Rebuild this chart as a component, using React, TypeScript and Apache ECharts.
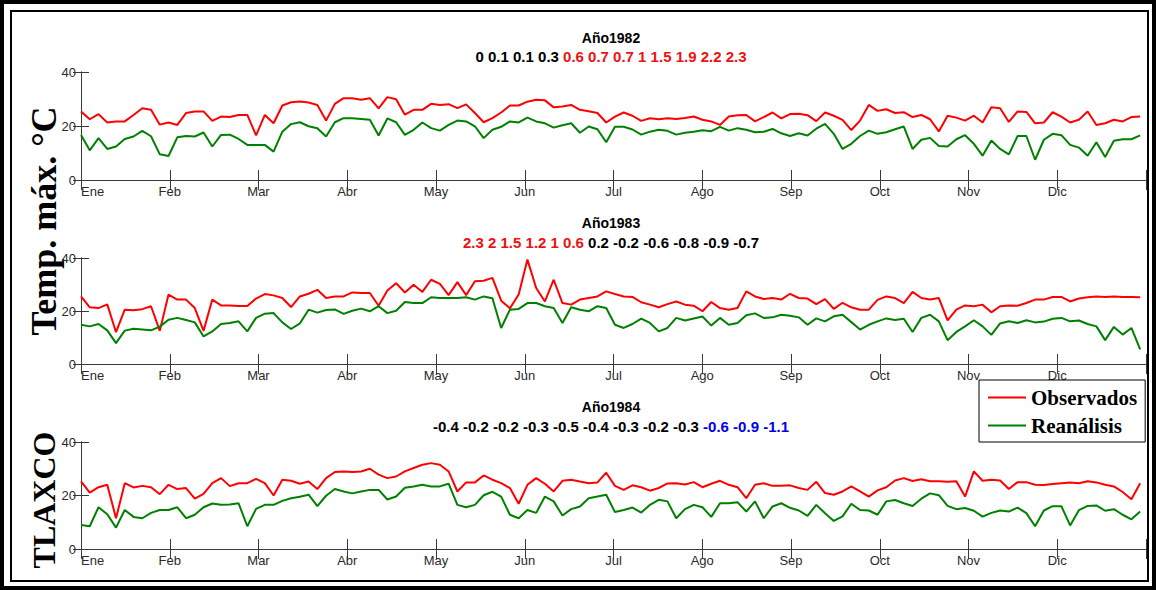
import React, { useEffect, useRef } from "react";
import * as echarts from "echarts";

// Month tick labels
const MONTHS = ["Ene", "Feb", "Mar", "Abr", "May", "Jun", "Jul", "Ago", "Sep", "Oct", "Nov", "Dic"];
// Samples are every STEP days, starting on day 0
const STEP = 3;

// 1982 daily maximum temperature (°C), observed and reanalysis
const obs1982 = [
  25.4, 22.5, 24.4, 21.3, 21.7, 21.7, 24.1, 26.6, 26.0, 20.5,
  21.3, 20.4, 24.8, 25.4, 25.4, 21.9, 23.5, 23.3, 24.1, 24.1,
  16.5, 24.1, 21.0, 27.6, 28.8, 29.1, 28.7, 27.8, 22.0, 28.2,
  30.3, 30.3, 29.7, 30.3, 26.5, 30.7, 29.9, 24.2, 26.0, 26.0,
  28.2, 27.8, 28.1, 26.6, 28.0, 24.8, 21.4, 22.9, 25.0, 27.6,
  27.6, 29.0, 29.7, 29.5, 26.9, 27.2, 27.8, 26.0, 25.5, 24.8,
  21.3, 23.5, 25.0, 23.8, 21.9, 22.9, 22.5, 22.9, 22.6, 23.0,
  23.5, 22.3, 21.7, 20.4, 23.5, 24.0, 24.1, 21.7, 23.3, 25.0,
  22.8, 24.4, 24.5, 24.0, 21.8, 25.0, 23.8, 22.3, 18.5, 22.0,
  27.8, 25.6, 26.2, 24.8, 25.1, 23.3, 24.1, 22.5, 18.0, 23.8,
  23.1, 22.0, 23.8, 21.3, 26.9, 26.6, 21.5, 25.4, 25.2, 21.0,
  21.3, 25.1, 23.5, 21.3, 22.3, 25.4, 20.4, 21.0, 22.3, 21.7,
  23.3, 23.5,
];
const rea1982 = [
  16.7, 11.0, 15.5, 11.5, 12.4, 15.2, 16.1, 18.2, 16.2, 9.5,
  8.9, 15.8, 16.3, 16.1, 17.6, 12.4, 16.7, 16.8, 15.2, 13.0,
  13.0, 13.0, 10.5, 17.9, 20.7, 21.4, 19.9, 19.2, 16.1, 21.4,
  22.9, 22.9, 22.6, 22.3, 16.5, 22.8, 21.4, 16.7, 18.6, 21.3,
  19.2, 18.3, 20.4, 22.0, 21.7, 19.9, 15.5, 18.6, 19.7, 21.7,
  21.3, 23.1, 21.7, 21.0, 19.4, 20.3, 21.0, 17.5, 19.8, 18.8,
  14.0, 19.7, 19.7, 18.7, 16.8, 17.9, 18.6, 18.2, 16.8, 17.5,
  17.9, 18.4, 18.1, 19.7, 18.3, 19.2, 18.6, 17.7, 17.9, 18.9,
  17.3, 16.3, 17.3, 16.5, 19.0, 20.8, 17.1, 11.5, 13.4, 16.3,
  18.3, 17.1, 17.7, 18.8, 19.8, 11.5, 14.9, 15.6, 12.6, 12.4,
  15.1, 16.6, 13.4, 9.0, 14.6, 11.5, 9.5, 16.3, 16.3, 7.5,
  14.9, 17.1, 16.6, 13.0, 12.0, 9.0, 14.0, 8.5, 14.5, 15.1,
  15.1, 16.5,
];

// 1983
const obs1983 = [
  25.5, 21.4, 21.1, 22.5, 12.0, 20.5, 20.3, 20.7, 21.8, 12.5,
  26.2, 24.3, 24.3, 21.1, 12.5, 24.3, 22.1, 22.1, 21.9, 21.9,
  24.7, 26.4, 25.9, 24.9, 21.5, 25.5, 26.5, 28.0, 24.9, 25.5,
  25.5, 27.0, 26.8, 26.8, 22.0, 27.7, 30.5, 27.0, 29.9, 27.2,
  31.8, 30.2, 26.0, 30.9, 26.0, 31.2, 31.4, 32.5, 23.9, 21.0,
  26.2, 39.4, 28.7, 23.6, 31.8, 23.0, 22.4, 24.3, 24.9, 25.5,
  27.4, 26.4, 25.5, 25.3, 23.3, 22.4, 21.4, 22.6, 23.6, 22.4,
  22.0, 19.9, 23.4, 21.1, 20.5, 21.1, 27.4, 25.5, 24.5, 24.9,
  24.3, 26.5, 24.9, 24.7, 22.6, 24.5, 20.8, 23.1, 21.4, 20.5,
  20.5, 24.2, 25.5, 24.9, 23.0, 27.2, 24.9, 24.3, 24.9, 16.5,
  20.5, 22.1, 21.8, 22.4, 19.5, 21.8, 22.1, 22.0, 23.0, 24.3,
  24.3, 25.3, 25.3, 23.6, 24.7, 25.2, 25.5, 25.3, 25.5, 25.3,
  25.3, 25.2,
];
const rea1983 = [
  14.8, 14.2, 15.1, 12.7, 7.9, 12.6, 13.3, 13.0, 12.7, 14.1,
  16.7, 17.4, 16.6, 15.7, 10.4, 12.3, 15.1, 15.5, 16.1, 12.3,
  17.4, 19.0, 19.2, 15.7, 13.2, 15.3, 20.5, 19.4, 20.4, 20.6,
  18.9, 20.1, 20.9, 19.9, 21.8, 19.2, 20.1, 23.4, 23.0, 23.0,
  25.2, 24.9, 24.9, 24.9, 25.2, 24.3, 25.5, 24.8, 13.6, 20.5,
  20.8, 23.0, 23.0, 21.8, 21.1, 15.5, 21.4, 20.5, 19.9, 21.8,
  21.1, 14.8, 13.6, 15.1, 17.1, 15.5, 12.3, 13.6, 17.4, 16.4,
  17.2, 17.9, 14.5, 17.4, 14.8, 15.5, 18.4, 19.1, 17.4, 17.6,
  18.6, 18.2, 17.6, 14.8, 17.2, 16.1, 18.0, 18.6, 15.8, 13.0,
  14.8, 16.1, 17.2, 16.6, 17.1, 12.1, 17.4, 18.6, 16.1, 9.0,
  12.1, 14.2, 16.5, 14.2, 11.0, 15.3, 16.1, 15.5, 16.5, 15.7,
  16.0, 17.1, 17.4, 16.1, 16.4, 15.1, 14.2, 9.0, 14.0, 11.1,
  13.6, 5.5,
];

// 1984
const obs1984 = [
  25.3, 21.1, 23.1, 24.0, 11.5, 24.6, 23.0, 23.6, 23.1, 20.5,
  24.0, 22.4, 22.8, 18.8, 20.6, 24.6, 26.5, 23.5, 24.6, 24.6,
  26.2, 24.6, 20.0, 25.9, 25.5, 24.4, 25.2, 22.4, 26.5, 28.8,
  29.0, 28.8, 29.0, 30.0, 27.8, 26.5, 27.1, 29.0, 30.3, 31.5,
  32.1, 31.5, 29.0, 21.5, 24.9, 24.9, 27.5, 25.9, 24.6, 22.8,
  16.9, 24.0, 26.5, 24.4, 21.5, 25.5, 25.9, 25.2, 24.6, 24.9,
  28.5, 23.6, 22.1, 23.8, 23.1, 21.8, 22.8, 24.5, 24.6, 24.1,
  25.0, 23.1, 24.4, 25.5, 24.0, 23.1, 19.0, 24.0, 24.6, 23.6,
  23.6, 23.8, 22.8, 22.1, 25.1, 20.9, 20.3, 21.5, 23.4, 21.5,
  19.6, 21.9, 23.1, 25.6, 26.5, 25.4, 26.1, 25.3, 25.3, 25.1,
  25.3, 19.6, 29.0, 25.5, 25.9, 25.6, 22.4, 25.0, 25.0, 24.0,
  23.9, 24.3, 24.6, 24.9, 24.6, 25.3, 24.9, 24.0, 23.4, 21.3,
  18.6, 24.6,
];
const rea1984 = [
  9.0, 8.5, 15.6, 13.0, 8.0, 14.6, 12.0, 11.5, 13.5, 14.6,
  14.6, 15.6, 11.5, 12.8, 15.6, 17.0, 16.5, 16.6, 17.1, 8.5,
  15.0, 16.5, 16.5, 18.0, 19.0, 19.5, 20.3, 16.0, 19.9, 22.4,
  21.5, 20.8, 21.5, 22.1, 22.1, 18.5, 19.6, 22.9, 23.4, 24.0,
  23.4, 23.4, 24.4, 16.5, 15.6, 16.5, 20.1, 21.4, 19.6, 12.8,
  11.5, 14.6, 13.5, 19.6, 17.8, 12.5, 14.9, 15.9, 19.0, 19.6,
  20.3, 13.8, 14.6, 15.5, 13.6, 16.5, 18.4, 17.8, 11.5, 14.9,
  16.5, 15.6, 12.0, 17.1, 17.1, 17.5, 14.0, 17.8, 11.5, 15.9,
  17.1, 15.4, 14.4, 12.4, 16.5, 13.4, 10.5, 12.2, 16.9, 14.6,
  14.4, 12.8, 17.8, 18.3, 17.1, 16.1, 18.8, 20.8, 20.1, 16.1,
  14.9, 15.3, 14.3, 12.1, 13.5, 14.4, 14.0, 15.5, 13.4, 8.5,
  14.4, 16.0, 16.0, 8.8, 14.5, 16.1, 16.3, 14.3, 14.9, 12.8,
  11.1, 14.0,
];

// Monthly anomaly values shown under each year title, with their text colour key
const anom1982 = [0, 0.1, 0.1, 0.3, 0.6, 0.7, 0.7, 1, 1.5, 1.9, 2.2, 2.3];
const tone1982 = ["k", "k", "k", "k", "r", "r", "r", "r", "r", "r", "r", "r"];
const anom1983 = [2.3, 2, 1.5, 1.2, 1, 0.6, 0.2, -0.2, -0.6, -0.8, -0.9, -0.7];
const tone1983 = ["r", "r", "r", "r", "r", "r", "k", "k", "k", "k", "k", "k"];
const anom1984 = [-0.4, -0.2, -0.2, -0.3, -0.5, -0.4, -0.3, -0.2, -0.3, -0.6, -0.9, -1.1];
const tone1984 = ["k", "k", "k", "k", "k", "k", "k", "k", "k", "b", "b", "b"];

const YEARS = ["Año1982", "Año1983", "Año1984"];
const OBS_NAME = "Observados";
const REA_NAME = "Reanálisis";

const RED = "#ff0000";
const GREEN = "#008000";
const AXIS = "#3a3a3a";
const SANS = "'Liberation Sans', Arial, sans-serif";
const SERIF = "'Liberation Serif', 'Times New Roman', serif";

const PANELS = [
  { obs: obs1982, rea: rea1982, anom: anom1982, tone: tone1982, top: 72, height: 108, titleY: 38, valY: 56 },
  { obs: obs1983, rea: rea1983, anom: anom1983, tone: tone1983, top: 258, height: 106, titleY: 223, valY: 242 },
  { obs: obs1984, rea: rea1984, anom: anom1984, tone: tone1984, top: 442, height: 107, titleY: 407, valY: 426 },
];

const PLOT_LEFT = 81;
const PLOT_WIDTH = 1065;
const CENTER_X = 611;

function toPairs(vals: number[]) {
  return vals.map((v, k) => [k * STEP, v]);
}

function anomRich(anom: number[], tone: string[]) {
  const parts: string[] = [];
  let cur = "";
  let curTone = tone[0];
  anom.forEach((v, i) => {
    if (tone[i] !== curTone) {
      parts.push(`{${curTone}|${cur} }`);
      cur = "";
      curTone = tone[i];
    }
    cur += (cur ? " " : "") + String(v);
  });
  parts.push(`{${curTone}|${cur}}`);
  return parts.join("");
}

export default function App() {
  const ref = useRef<HTMLDivElement>(null);

  useEffect(() => {
    if (!ref.current) return;
    const chart = echarts.init(ref.current, null, { renderer: "svg" });

    const grids: any[] = [];
    const xAxes: any[] = [];
    const yAxes: any[] = [];
    const series: any[] = [];
    const graphics: any[] = [];

    PANELS.forEach((p, i) => {
      grids.push({ left: PLOT_LEFT, top: p.top, width: PLOT_WIDTH, height: p.height, containLabel: false });
      const xBase = {
        gridIndex: i,
        type: "value",
        min: 0,
        max: 365,
        interval: 365 / 12,
        splitLine: { show: false },
        axisLine: { show: true, lineStyle: { color: AXIS, width: 1 } },
        axisTick: { show: true, inside: true, length: 10, lineStyle: { color: AXIS } },
      };
      xAxes.push({
        ...xBase,
        position: "bottom",
        axisLabel: {
          show: true,
          margin: 5,
          color: "#2a2a2a",
          fontSize: 13,
          fontFamily: SANS,
          alignMinLabel: "left",
          formatter: (v: number) => MONTHS[Math.round((v * 12) / 365)] ?? "",
        },
      });
      xAxes.push({ ...xBase, position: "top", axisLabel: { show: false } });
      const yBase = {
        gridIndex: i,
        type: "value",
        min: 0,
        max: 40,
        interval: 20,
        splitLine: { show: false },
        axisLine: { show: true, lineStyle: { color: AXIS, width: 1 } },
        axisTick: { show: true, inside: true, length: 8, lineStyle: { color: AXIS } },
      };
      yAxes.push({
        ...yBase,
        position: "left",
        axisLabel: { show: true, margin: 5, color: "#2a2a2a", fontSize: 13, fontFamily: SANS },
      });
      yAxes.push({ ...yBase, position: "right", axisLabel: { show: false } });

      series.push({
        type: "line",
        name: OBS_NAME,
        xAxisIndex: i * 2,
        yAxisIndex: i * 2,
        data: toPairs(p.obs),
        symbol: "none",
        showSymbol: false,
        lineStyle: { color: RED, width: 2 },
        itemStyle: { color: RED },
        z: 2,
      });
      series.push({
        type: "line",
        name: REA_NAME,
        xAxisIndex: i * 2,
        yAxisIndex: i * 2,
        data: toPairs(p.rea),
        symbol: "none",
        showSymbol: false,
        lineStyle: { color: GREEN, width: 2 },
        itemStyle: { color: GREEN },
        z: 3,
      });

      graphics.push({
        type: "text",
        x: CENTER_X,
        y: p.titleY,
        style: {
          text: YEARS[i],
          align: "center",
          verticalAlign: "middle",
          font: `bold 14px ${SANS}`,
          fill: "#000",
        },
      });
      graphics.push({
        type: "text",
        x: CENTER_X,
        y: p.valY,
        style: {
          text: anomRich(p.anom, p.tone),
          align: "center",
          verticalAlign: "middle",
          font: `bold 15px ${SANS}`,
          fill: "#000",
          rich: {
            k: { fill: "#000", font: `bold 15px ${SANS}` },
            r: { fill: "#ee1111", font: `bold 15px ${SANS}` },
            b: { fill: "#0000ee", font: `bold 15px ${SANS}` },
          },
        },
      });
    });

    // y-axis side labels
    graphics.push({
      type: "text",
      x: 44,
      y: 221,
      rotation: Math.PI / 2,
      style: {
        text: "Temp. máx. °C",
        align: "center",
        verticalAlign: "middle",
        font: `bold 36px ${SERIF}`,
        fill: "#000",
      },
    });
    graphics.push({
      type: "text",
      x: 44,
      y: 500,
      rotation: Math.PI / 2,
      style: {
        text: "TLAXCO",
        align: "center",
        verticalAlign: "middle",
        font: `bold 32px ${SERIF}`,
        fill: "#000",
      },
    });
    // double frame
    graphics.push({
      type: "rect",
      shape: { x: 2, y: 2, width: 1152, height: 586 },
      style: { fill: "none", stroke: "#000", lineWidth: 4 },
      silent: true,
    });
    graphics.push({
      type: "rect",
      shape: { x: 11, y: 11, width: 1137, height: 570 },
      style: { fill: "none", stroke: "#000", lineWidth: 2 },
      silent: true,
    });

    chart.setOption({
      animation: false,
      backgroundColor: "#ffffff",
      grid: grids,
      xAxis: xAxes,
      yAxis: yAxes,
      series,
      legend: {
        data: [
          { name: OBS_NAME, icon: "rect" },
          { name: REA_NAME, icon: "rect" },
        ],
        orient: "vertical",
        left: 979,
        top: 380,
        padding: [7, 8, 6, 9],
        itemGap: 7,
        itemWidth: 38,
        itemHeight: 2,
        backgroundColor: "#ffffff",
        borderColor: "#000",
        borderWidth: 1,
        textStyle: { fontFamily: SERIF, fontWeight: "bold", fontSize: 21, color: "#000" },
        selectedMode: false,
        z: 10,
      },
      graphic: graphics,
    });

    return () => chart.dispose();
  }, []);

  return (
    <div
      ref={ref}
      style={{ position: "fixed", left: 0, top: 0, width: 1156, height: 590, background: "#fff" }}
    />
  );
}
